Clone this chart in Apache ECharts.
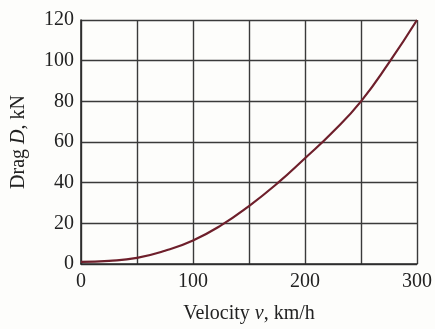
<!DOCTYPE html>
<html>
<head>
<meta charset="utf-8">
<script src="https://cdn.jsdelivr.net/npm/echarts@6/dist/echarts.min.js"></script>
<style>
  html, body { margin: 0; padding: 0; background: #fdfdfb; }
  #chart { width: 435px; height: 329px; }
</style>
</head>
<body>
<div id="chart"></div>
<script>
// velocity (km/h) and drag (kN)
const velocity = [0, 25, 50, 75, 100, 125, 150, 175, 200, 225, 250, 275, 300];
const drag = [1, 1.5, 3, 6.5, 11.6, 19, 28.5, 39.5, 52, 65, 80, 99, 120];
const xTicks = [0, 100, 200, 300];

const serif = '"Liberation Serif", "DejaVu Serif", serif';
const chart = echarts.init(document.getElementById('chart'));

const option = {
    backgroundColor: '#fdfdfb',
    animation: false,
    grid: { left: 81, right: 18, top: 20, bottom: 61 },
    xAxis: {
        type: 'value',
        min: 0,
        max: 300,
        interval: 50,
        name: '{n|Velocity }{i|v}{n|, km/h}',
        nameLocation: 'middle',
        nameGap: 40,
        nameTextStyle: {
            rich: {
                n: { fontFamily: serif, fontSize: 20, color: '#222' },
                i: { fontFamily: serif, fontSize: 20, fontStyle: 'italic', color: '#222' }
            }
        },
        axisLine: { lineStyle: { color: '#2a2a2a', width: 1.6 } },
        axisTick: { show: false },
        axisLabel: {
            margin: 8,
            fontFamily: serif,
            fontSize: 20,
            color: '#222',
            formatter: v => xTicks.includes(v) ? String(v) : ''
        },
        splitLine: { lineStyle: { color: '#3a3a3a', width: 1.4 } }
    },
    yAxis: {
        type: 'value',
        min: 0,
        max: 120,
        interval: 20,
        name: '{n|Drag }{i|D}{n|, kN}',
        nameLocation: 'middle',
        nameGap: 52,
        nameRotate: 90,
        nameTextStyle: {
            rich: {
                n: { fontFamily: serif, fontSize: 20, color: '#222' },
                i: { fontFamily: serif, fontSize: 20, fontStyle: 'italic', color: '#222' }
            }
        },
        axisLine: { show: true, lineStyle: { color: '#2a2a2a', width: 1.6 } },
        axisTick: { show: false },
        axisLabel: { margin: 7, fontFamily: serif, fontSize: 20, color: '#222' },
        splitLine: { lineStyle: { color: '#3a3a3a', width: 1.4 } }
    },
    series: [
        {
            type: 'line',
            smooth: true,
            symbol: 'none',
            lineStyle: { color: '#6e1f2b', width: 2.2 },
            data: velocity.map((v, i) => [v, drag[i]])
        }
    ]
};

chart.setOption(option);
</script>
</body>
</html>
